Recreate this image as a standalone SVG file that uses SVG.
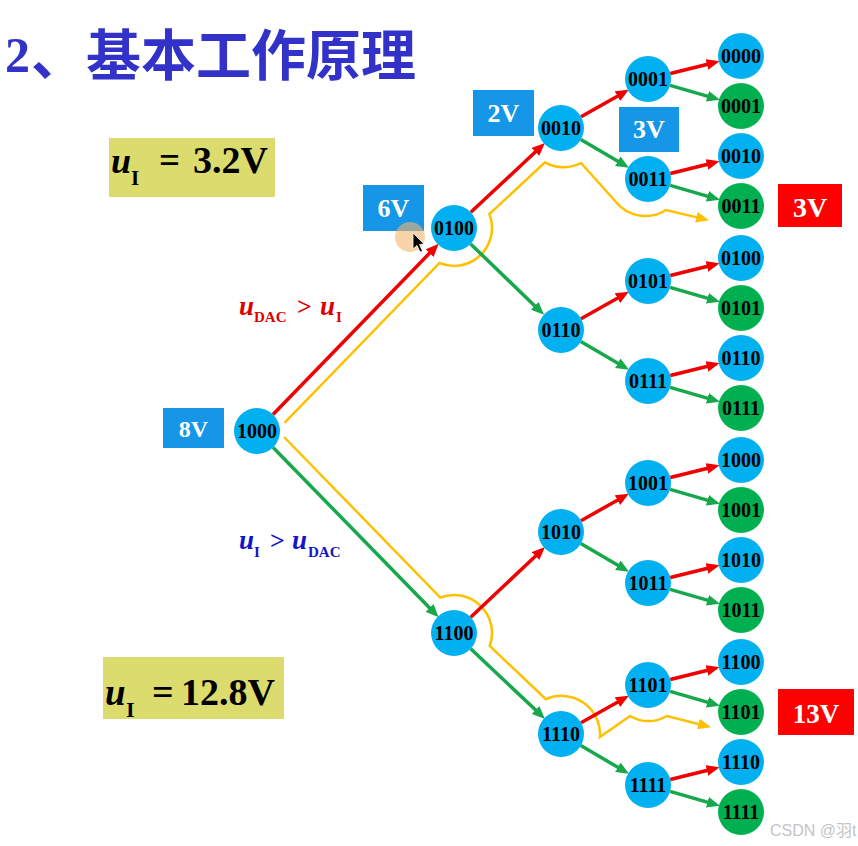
<svg xmlns="http://www.w3.org/2000/svg" width="858" height="846" viewBox="0 0 858 846">
<defs>
<style>
.bg{fill:#ffffff}
.n{fill:#00B0F0}
.g{fill:#00B050}
.nt{font-family:"Liberation Serif",serif;font-weight:bold;font-size:20px;fill:#000;text-anchor:middle}
.bx{fill:#1596E6}
.rb{fill:#FF0000}
.bt{font-family:"Liberation Serif",serif;font-weight:bold;fill:#fff;text-anchor:middle}
.yb{fill:#DCDC6E}
.ft{font-family:"Liberation Serif",serif;font-weight:bold;fill:#000}
.it{font-style:italic}
.red{stroke:#F00000;stroke-width:3.5;fill:none;marker-end:url(#ar)}
.grn{stroke:#17A84B;stroke-width:3.5;fill:none;marker-end:url(#ag)}
.yel{stroke:#FFC000;stroke-width:2.5;fill:none;marker-end:url(#ay)}
</style>
<marker id="ar" markerUnits="userSpaceOnUse" markerWidth="13" markerHeight="11" refX="6" refY="5.5" orient="auto"><path d="M0,0 L13,5.5 L0,11 z" fill="#F00000"/></marker>
<marker id="ag" markerUnits="userSpaceOnUse" markerWidth="13" markerHeight="11" refX="6" refY="5.5" orient="auto"><path d="M0,0 L13,5.5 L0,11 z" fill="#17A84B"/></marker>
<marker id="ay" markerUnits="userSpaceOnUse" markerWidth="13" markerHeight="11" refX="6" refY="5.5" orient="auto"><path d="M0,0 L13,5.5 L0,11 z" fill="#FFC000"/></marker>
</defs>
<rect class="bg" x="0" y="0" width="858" height="846"/>

<g id="title">
<text x="5" y="72" font-family="Liberation Serif,serif" font-weight="bold" font-size="50" fill="#3232C8">2</text>
<text x="31" y="75" font-family="Noto Sans CJK SC,sans-serif" font-weight="bold" font-size="55" fill="#3232C8">、基本工作原理</text>
</g>

<g id="connectors">
<path class="yel" d="M284.5,422.8 L439.5,263 A38,38 0 0 0 489.4,214.1 L545,162.3 A38,38 0 0 0 581,163 L616,202 A38,38 0 0 0 666,210 L702.2,218.6"/>
<path class="yel" d="M284,437 L440.3,597.5 A38,38 0 0 1 489.7,646 L545.9,699.2 A38.5,38.5 0 0 1 600,737 L630,716 A36,36 0 0 0 667,716 L704.2,725.5"/>
<path class="red" d="M273,414.5 L433.8,248.8"/>
<path class="grn" d="M273.1,447.5 L433.8,612.2"/>
<path class="red" d="M470.8,212.3 L539.8,147.8"/>
<path class="grn" d="M470.6,243.9 L539,310"/>
<path class="red" d="M470.7,617.2 L539.9,551.9"/>
<path class="grn" d="M470.7,648.8 L539.9,714.1"/>
<path class="red" d="M581,116.7 L622.7,93.2"/>
<path class="grn" d="M580.8,139.6 L623,164.3"/>
<path class="red" d="M581,318.7 L622.7,295.2"/>
<path class="grn" d="M580.8,341.6 L623,366.3"/>
<path class="red" d="M581,520.7 L622.7,497.2"/>
<path class="grn" d="M580.8,543.6 L623,568.3"/>
<path class="red" d="M581,722.7 L622.7,699.2"/>
<path class="grn" d="M580.8,745.6 L623,770.3"/>
<path class="red" d="M670.3,73.5 L712.8,63"/>
<path class="grn" d="M670.1,85.4 L713.2,97.9"/>
<path class="red" d="M670.3,173.5 L712.8,163"/>
<path class="grn" d="M670.1,185.4 L713.2,197.9"/>
<path class="red" d="M670.3,275.5 L712.8,265"/>
<path class="grn" d="M670.1,287.4 L713.2,299.9"/>
<path class="red" d="M670.3,375.5 L712.8,365"/>
<path class="grn" d="M670.1,387.4 L713.2,399.9"/>
<path class="red" d="M670.3,477.5 L712.8,467"/>
<path class="grn" d="M670.1,489.4 L713.2,501.9"/>
<path class="red" d="M670.3,577.5 L712.8,567"/>
<path class="grn" d="M670.1,589.4 L713.2,601.9"/>
<path class="red" d="M670.3,679.5 L712.8,669"/>
<path class="grn" d="M670.1,691.4 L713.2,703.9"/>
<path class="red" d="M670.3,779.5 L712.8,769"/>
<path class="grn" d="M670.1,791.4 L713.2,803.9"/>
</g>

<g id="n0-1000"><circle class="n" cx="257" cy="431" r="23"/><text class="nt" x="257" y="438">1000</text></g>
<g id="n1-0100"><circle class="n" cx="454" cy="228" r="23"/><text class="nt" x="454" y="235">0100</text></g>
<g id="n1-1100"><circle class="n" cx="454" cy="633" r="23"/><text class="nt" x="454" y="640">1100</text></g>
<g id="n2-0010"><circle class="n" cx="561" cy="128" r="23"/><text class="nt" x="561" y="135">0010</text></g>
<g id="n2-0110"><circle class="n" cx="561" cy="330" r="23"/><text class="nt" x="561" y="337">0110</text></g>
<g id="n2-1010"><circle class="n" cx="561" cy="532" r="23"/><text class="nt" x="561" y="539">1010</text></g>
<g id="n2-1110"><circle class="n" cx="561" cy="734" r="23"/><text class="nt" x="561" y="741">1110</text></g>
<g id="n3-0001"><circle class="n" cx="648" cy="79" r="23"/><text class="nt" x="648" y="86">0001</text></g>
<g id="n3-0011"><circle class="n" cx="648" cy="179" r="23"/><text class="nt" x="648" y="186">0011</text></g>
<g id="n3-0101"><circle class="n" cx="648" cy="281" r="23"/><text class="nt" x="648" y="288">0101</text></g>
<g id="n3-0111"><circle class="n" cx="648" cy="381" r="23"/><text class="nt" x="648" y="388">0111</text></g>
<g id="n3-1001"><circle class="n" cx="648" cy="483" r="23"/><text class="nt" x="648" y="490">1001</text></g>
<g id="n3-1011"><circle class="n" cx="648" cy="583" r="23"/><text class="nt" x="648" y="590">1011</text></g>
<g id="n3-1101"><circle class="n" cx="648" cy="685" r="23"/><text class="nt" x="648" y="692">1101</text></g>
<g id="n3-1111"><circle class="n" cx="648" cy="785" r="23"/><text class="nt" x="648" y="792">1111</text></g>
<g id="n4-0000"><circle class="n" cx="741" cy="56" r="23"/><text class="nt" x="741" y="63">0000</text></g>
<g id="n4-0001"><circle class="g" cx="741" cy="106" r="23"/><text class="nt" x="741" y="113">0001</text></g>
<g id="n4-0010"><circle class="n" cx="741" cy="156" r="23"/><text class="nt" x="741" y="163">0010</text></g>
<g id="n4-0011"><circle class="g" cx="741" cy="206" r="23"/><text class="nt" x="741" y="213">0011</text></g>
<g id="n4-0100"><circle class="n" cx="741" cy="258" r="23"/><text class="nt" x="741" y="265">0100</text></g>
<g id="n4-0101"><circle class="g" cx="741" cy="308" r="23"/><text class="nt" x="741" y="315">0101</text></g>
<g id="n4-0110"><circle class="n" cx="741" cy="358" r="23"/><text class="nt" x="741" y="365">0110</text></g>
<g id="n4-0111"><circle class="g" cx="741" cy="408" r="23"/><text class="nt" x="741" y="415">0111</text></g>
<g id="n4-1000"><circle class="n" cx="741" cy="460" r="23"/><text class="nt" x="741" y="467">1000</text></g>
<g id="n4-1001"><circle class="g" cx="741" cy="510" r="23"/><text class="nt" x="741" y="517">1001</text></g>
<g id="n4-1010"><circle class="n" cx="741" cy="560" r="23"/><text class="nt" x="741" y="567">1010</text></g>
<g id="n4-1011"><circle class="g" cx="741" cy="610" r="23"/><text class="nt" x="741" y="617">1011</text></g>
<g id="n4-1100"><circle class="n" cx="741" cy="662" r="23"/><text class="nt" x="741" y="669">1100</text></g>
<g id="n4-1101"><circle class="g" cx="741" cy="712" r="23"/><text class="nt" x="741" y="719">1101</text></g>
<g id="n4-1110"><circle class="n" cx="741" cy="762" r="23"/><text class="nt" x="741" y="769">1110</text></g>
<g id="n4-1111"><circle class="g" cx="741" cy="812" r="23"/><text class="nt" x="741" y="819">1111</text></g>

<g id="box-8V"><rect class="bx" x="163" y="408" width="61" height="40"/><text class="bt" x="193.5" y="437" font-size="24">8V</text></g>
<g id="box-6V"><rect class="bx" x="363" y="185" width="61" height="46"/><text class="bt" x="393.5" y="217" font-size="26">6V</text></g>
<g id="box-2V"><rect class="bx" x="473" y="90" width="61" height="46"/><text class="bt" x="503.5" y="122" font-size="26">2V</text></g>
<g id="box-3V"><rect class="bx" x="619" y="107" width="60" height="45"/><text class="bt" x="649" y="138" font-size="26">3V</text></g>
<g id="res-3V"><rect class="rb" x="778" y="184" width="64" height="43"/><text class="bt" x="810" y="217" font-size="28">3V</text></g>
<g id="res-13V"><rect class="rb" x="778" y="689" width="76" height="46"/><text class="bt" x="816" y="723" font-size="27">13V</text></g>

<g id="input-3.2V"><rect class="yb" x="109" y="138" width="166" height="59"/>
<text class="ft"><tspan class="it" x="111" y="173" font-size="36">u</tspan><tspan x="131" y="185" font-size="21">I</tspan><tspan x="159" y="173" font-size="37">=</tspan><tspan x="193" y="173" font-size="38">3.2V</tspan></text></g>
<g id="input-12.8V"><rect class="yb" x="103" y="657" width="181" height="62"/>
<text class="ft"><tspan class="it" x="105" y="705" font-size="37">u</tspan><tspan x="126" y="717" font-size="22">I</tspan><tspan x="152" y="705" font-size="38">=</tspan><tspan x="181" y="705" font-size="38">12.8V</tspan></text></g>

<g id="cond-red"><text class="ft" style="fill:#DC0000"><tspan class="it" x="239" y="315" font-size="27">u</tspan><tspan x="254" y="322" font-size="15">DAC</tspan><tspan x="297" y="315" font-size="26">&gt;</tspan><tspan class="it" x="320" y="315" font-size="27">u</tspan><tspan x="336" y="322" font-size="15">I</tspan></text></g>
<g id="cond-blue"><text class="ft" style="fill:#1414C8"><tspan class="it" x="239" y="549" font-size="27">u</tspan><tspan x="254" y="557" font-size="15">I</tspan><tspan x="270" y="549" font-size="26">&gt;</tspan><tspan class="it" x="292" y="549" font-size="27">u</tspan><tspan x="308" y="557" font-size="15">DAC</tspan></text></g>

<g id="cursor">
<circle cx="410" cy="237" r="15" fill="#F2B66E" opacity="0.6"/>
<path d="M413,233 L413,249 L417,245.5 L420,252 L422.5,251 L419.5,244.5 L424,244 Z" fill="#000" stroke="#fff" stroke-width="0.8"/>
</g>

<text id="watermark" x="770" y="836" font-family="Liberation Sans,Noto Sans CJK SC,sans-serif" font-size="16" fill="#C4C4C4">CSDN @羽t</text>
</svg>
